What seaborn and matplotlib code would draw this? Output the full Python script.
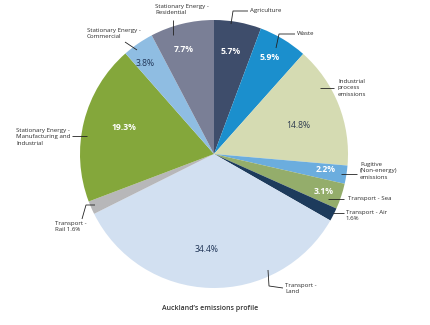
import matplotlib
matplotlib.use("Agg")
import matplotlib.pyplot as plt
import seaborn as sns
import numpy as np

sns.set_theme(style="white")
plt.rcParams['font.family'] = ['Open Sans', 'DejaVu Sans']

categories = ["Agriculture", "Waste", "Industrial process emissions",
              "Fugitive (Non-energy) emissions", "Transport - Sea", "Transport - Air",
              "Transport - Land", "Transport - Rail",
              "Stationary Energy - Manufacturing and Industrial",
              "Stationary Energy - Commercial", "Stationary Energy - Residential"]
values = [5.7, 5.9, 14.8, 2.2, 3.1, 1.6, 34.4, 1.6, 19.3, 3.8, 7.7]
pct_labels = ["5.7%", "5.9%", "14.8%", "2.2%", "3.1%", "", "34.4%", "", "19.3%", "3.8%", "7.7%"]
colors = ["#3e4d6b", "#1b8fcd", "#d5dbb2", "#6badde", "#94ad6b", "#1d3b5c",
          "#d2e0f1", "#b7b7b9", "#84a73b", "#8fbde2", "#7a7f96"]
pct_colors = ["white", "white", "#2d3a4f", "white", "white", "white",
              "#1f3456", "white", "white", "#1f3456", "white"]

W, H = 430, 325
fig = plt.figure(figsize=(W / 100, H / 100), dpi=100)
ax = fig.add_axes([0, 0, 1, 1])
ax.axis("off")

def P(x, y):
    return (x, H - y)

cx, cy, R = 214, 154, 134
wedges, _ = ax.pie(values, colors=colors, startangle=90, counterclock=False,
                   center=P(cx, cy), radius=R,
                   wedgeprops=dict(linewidth=0))
ax.set_xlim(0, W)
ax.set_ylim(0, H)
ax.set_aspect("equal")

# percent label positions (pixel layout)
pct_pos = [(231, 51), (270, 58), (298, 126), (326, 170), (324, 192), None,
           (207, 250), None, (124, 128), (145, 63), (184, 50)]
for lab, pos, c in zip(pct_labels, pct_pos, pct_colors):
    if pos is None or not lab:
        continue
    bold = c == "white"
    ax.text(*P(*pos), lab, ha="center", va="center", fontsize=6.2,
            color=c, fontweight="bold" if bold else "normal")

fs = 4.4
tc = "#2b2b2b"
# (text, text position (left, top), leader path in pixels)
outer = [
    ("Agriculture", (250, 8), [(231, 24), (233, 11), (248, 11)]),
    ("Waste", (297, 31), [(276, 48), (279, 34), (295, 34)]),
    ("Industrial\nprocess\nemissions", (338, 79), [(320, 88), (334, 88)]),
    ("Fugitive\n(Non-energy)\nemissions", (360, 162), [(341, 174), (357, 174)]),
    ("Transport - Sea", (348, 196), [(328, 199), (344, 199)]),
    ("Transport - Air\n1.6%", (346, 210), [(333, 213), (344, 213)]),
    ("Transport -\nLand", (285, 283), [(268, 270), (269, 286), (283, 288)]),
    ("Transport -\nRail 1.6%", (55, 221), [(95, 205), (86, 205), (82, 219)]),
    ("Stationary Energy -\nManufacturing and\nIndustrial", (16, 128), [(72, 136), (87, 136)]),
    ("Stationary Energy -\nCommercial", (87, 28), [(125, 42), (137, 50)]),
    ("Stationary Energy -\nResidential", (155, 4), [(173, 20), (173, 35)]),
]
for txt, (tx, ty), path in outer:
    ax.text(*P(tx, ty), txt, ha="left", va="top", fontsize=fs, color=tc,
            linespacing=1.35)
    xs = [p[0] for p in path]
    ys = [H - p[1] for p in path]
    ax.plot(xs, ys, color="#222222", lw=0.6, solid_capstyle="butt")

ax.text(*P(210, 309), "Auckland\u2019s emissions profile", ha="center", va="center",
        fontsize=5.0, color="#333333", fontweight="semibold")

fig.savefig("out.png", dpi=100)
